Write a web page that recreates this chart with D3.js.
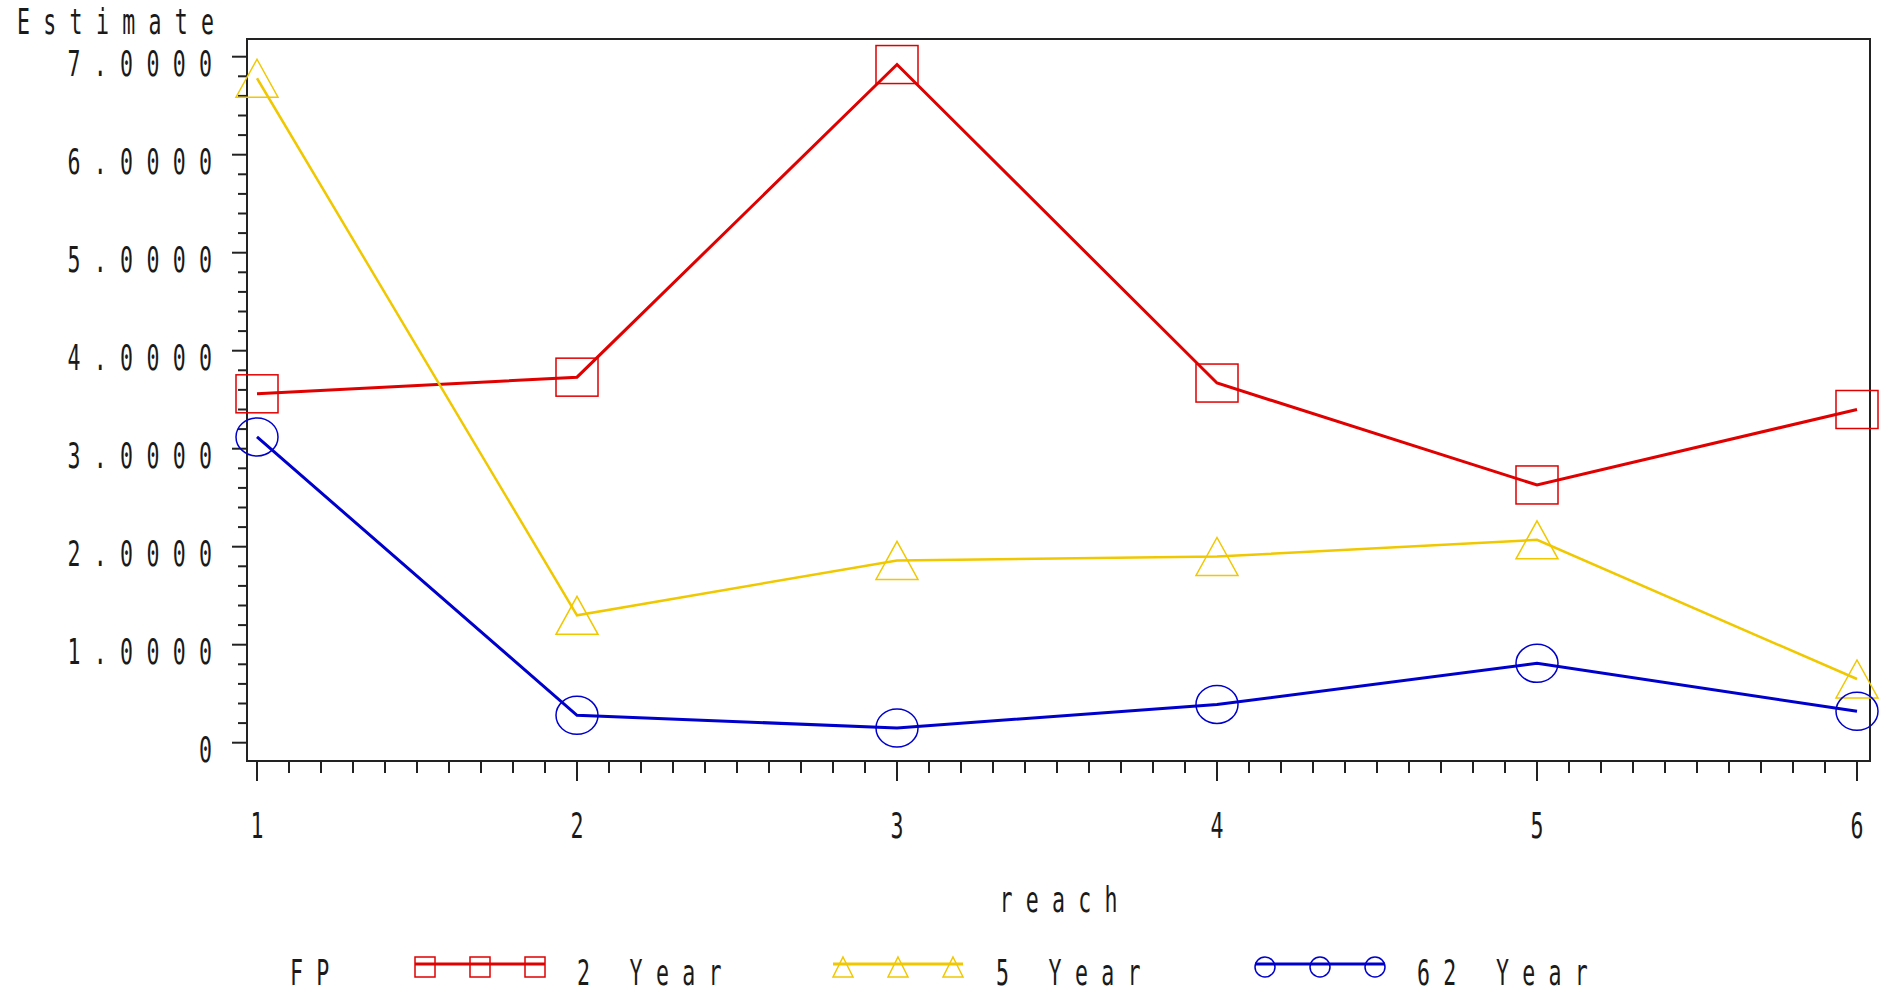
<!DOCTYPE html>
<html>
<head>
<meta charset="utf-8">
<script src="https://cdn.jsdelivr.net/npm/d3@7"></script>
<style>
  body { margin: 0; background: #fff; }
  text { font-family: "DejaVu Sans Mono", monospace; white-space: pre; }
</style>
</head>
<body>
<div id="chart"></div>
<script>
// data
var reach = [1, 2, 3, 4, 5, 6];
var fp2 = [3.56, 3.73, 6.92, 3.67, 2.63, 3.40];
var fp5 = [6.78, 1.30, 1.86, 1.90, 2.07, 0.65];
var fp62 = [3.12, 0.28, 0.15, 0.39, 0.81, 0.32];
var seriesNames = ["2 Year", "5 Year", "62 Year"];
var yTickLabels = ["0", "1.0000", "2.0000", "3.0000", "4.0000", "5.0000", "6.0000", "7.0000"];

var width = 1890, height = 992;
var frame = {left: 247, right: 1870, top: 39, bottom: 761};

var x = d3.scaleLinear().domain([1, 6]).range([257, 1857]);
var y = d3.scaleLinear().domain([0, 7]).range([742.7, 56.7]);

var colors = ["#e00000", "#f0c800", "#0000cc"];
var shapes = ["square", "triangle", "circle"];
var series = [fp2, fp5, fp62];

var svg = d3.select("#chart").append("svg")
    .attr("width", width)
    .attr("height", height);

// SAS style text: narrow glyphs, wide tracking
var FS = 36, SX = 0.6, ADV = 26.3;
var spacing = ADV / SX - 0.602 * FS;
function label(str, px, py, anchor) {
    var w = (str.length - 1) * ADV + 0.602 * FS * SX;
    var sx = anchor == "end" ? px - w : anchor == "middle" ? px - w / 2 : px;
    return svg.append("text")
        .attr("transform", "translate(" + sx + "," + py + ")scale(" + SX + ",1)")
        .attr("font-size", FS)
        .attr("letter-spacing", spacing)
        .attr("fill", "#1a1a1a")
        .text(str);
}

// frame
svg.append("rect")
    .attr("x", frame.left).attr("y", frame.top)
    .attr("width", frame.right - frame.left)
    .attr("height", frame.bottom - frame.top)
    .attr("fill", "none")
    .attr("stroke", "#222")
    .attr("stroke-width", 2);

// y axis ticks
var yTicks = d3.range(0, 36).map(function(i) { return i * 0.2; });
svg.append("g").selectAll("line")
    .data(yTicks)
    .enter().append("line")
    .attr("x1", function(d, i) { return i % 5 == 0 ? frame.left - 15 : frame.left - 9; })
    .attr("x2", frame.left)
    .attr("y1", function(d) { return y(d); })
    .attr("y2", function(d) { return y(d); })
    .attr("stroke", "#222")
    .attr("stroke-width", 2);

yTickLabels.forEach(function(t, i) {
    label(t, 212, y(i) + 19, "end");
});

// x axis ticks
var xTicks = d3.range(0, 51).map(function(i) { return 1 + i * 0.1; });
svg.append("g").selectAll("line")
    .data(xTicks)
    .enter().append("line")
    .attr("x1", function(d) { return x(d); })
    .attr("x2", function(d) { return x(d); })
    .attr("y1", frame.bottom)
    .attr("y2", function(d, i) { return i % 10 == 0 ? frame.bottom + 20 : frame.bottom + 12; })
    .attr("stroke", "#222")
    .attr("stroke-width", 2);

reach.forEach(function(r) {
    label(String(r), x(r), 838, "middle");
});

label("Estimate", 17, 34, "start");
label("reach", (frame.left + frame.right) / 2, 912, "middle");

function marker(g, shape, cx, cy, w, h, color) {
    if (shape == "square") {
        g.append("rect")
            .attr("x", cx - w / 2).attr("y", cy - h / 2)
            .attr("width", w).attr("height", h)
            .attr("fill", "none").attr("stroke", color).attr("stroke-width", 1.5);
    } else if (shape == "triangle") {
        g.append("path")
            .attr("d", "M" + cx + "," + (cy - h / 2) + "L" + (cx + w / 2) + "," + (cy + h / 2) +
                "L" + (cx - w / 2) + "," + (cy + h / 2) + "Z")
            .attr("fill", "none").attr("stroke", color).attr("stroke-width", 1.5);
    } else {
        g.append("ellipse")
            .attr("cx", cx).attr("cy", cy)
            .attr("rx", w / 2).attr("ry", h / 2)
            .attr("fill", "none").attr("stroke", color).attr("stroke-width", 1.5);
    }
}

var line = d3.line()
    .x(function(d, i) { return x(reach[i]); })
    .y(function(d) { return y(d); });

series.forEach(function(vals, s) {
    var g = svg.append("g");
    g.append("path")
        .datum(vals)
        .attr("d", line)
        .attr("fill", "none")
        .attr("stroke", colors[s])
        .attr("stroke-width", s == 1 ? 2.5 : 3);
    vals.forEach(function(v, i) {
        marker(g, shapes[s], x(reach[i]), y(v), 42, 38, colors[s]);
    });
});

// legend
label("FP", 290, 985, "start");
var legendX = [415, 833, 1255];
var legendTextX = [577, 996, 1417];
seriesNames.forEach(function(name, s) {
    var g = svg.append("g");
    g.append("line")
        .attr("x1", legendX[s]).attr("x2", legendX[s] + 130)
        .attr("y1", 964).attr("y2", 964)
        .attr("stroke", colors[s]).attr("stroke-width", 3);
    [10, 65, 120].forEach(function(o) {
        marker(g, shapes[s], legendX[s] + o, 967, 20, 20, colors[s]);
    });
    label(name, legendTextX[s], 985, "start");
});
</script>
</body>
</html>
